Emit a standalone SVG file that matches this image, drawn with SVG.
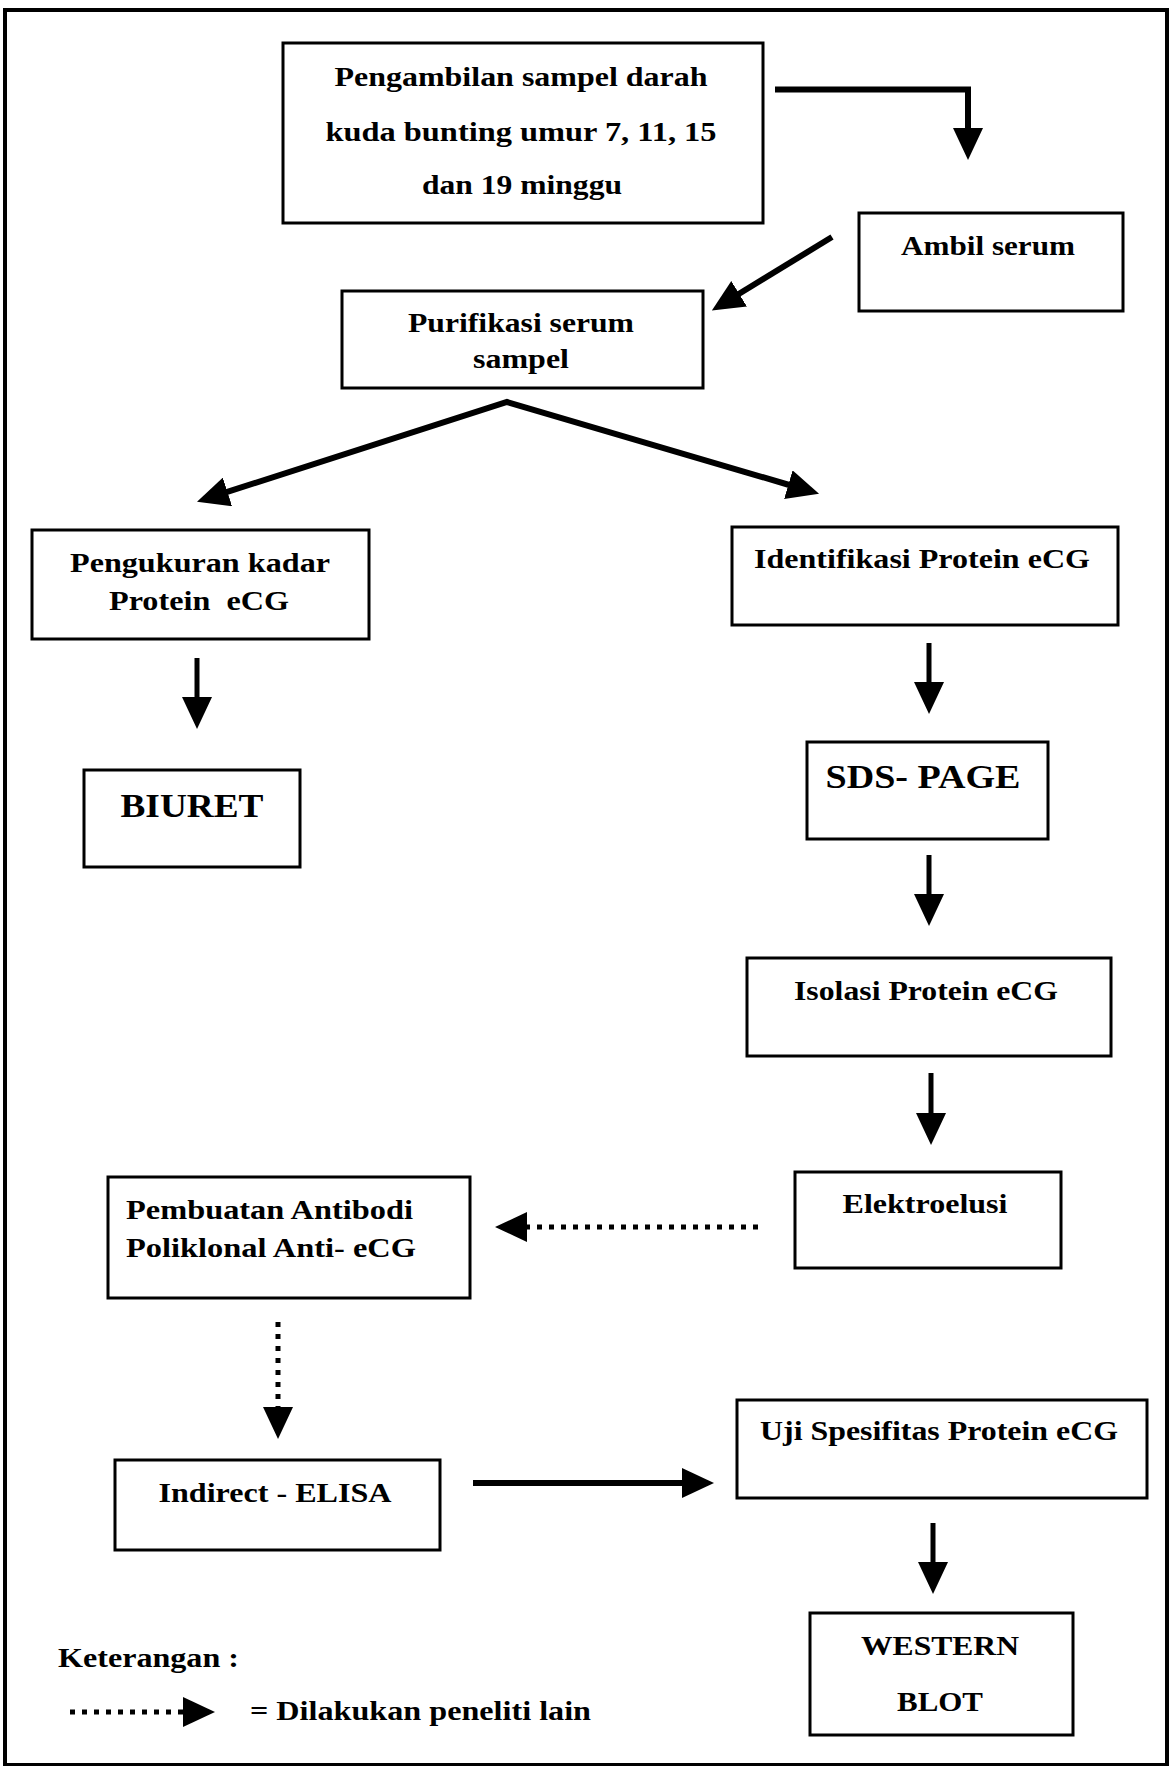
<svg xmlns="http://www.w3.org/2000/svg" width="1171" height="1766" viewBox="0 0 1171 1766">
<style>
.box{fill:#fff;stroke:#000;stroke-width:3}
.t{font-family:"Liberation Serif","Times New Roman",serif;font-weight:bold;font-size:28px;fill:#000}
.c{text-anchor:middle}
.big{font-size:33px}
.ln{fill:none;stroke:#000;stroke-width:5}
.thick{stroke-width:6}
.dot{fill:none;stroke:#000;stroke-width:5;stroke-dasharray:5 7}
</style>
<defs>
<marker id="ah" markerUnits="userSpaceOnUse" viewBox="0 0 32 30" markerWidth="32" markerHeight="30" refX="1" refY="15" orient="auto-start-reverse">
<path d="M0,0 L32,15 L0,30 z" fill="#000"/>
</marker>
</defs>
<rect x="0" y="0" width="1171" height="1766" fill="#fff"/>
<rect id="frame" x="5" y="10" width="1162" height="1755" fill="none" stroke="#000" stroke-width="4"/>

<g id="n-pengambilan">
<rect class="box" x="283" y="43" width="480" height="180"/>
<text class="t c" x="521" y="86" textLength="373" lengthAdjust="spacingAndGlyphs">Pengambilan sampel darah</text>
<text class="t c" x="521" y="141" textLength="391" lengthAdjust="spacingAndGlyphs">kuda bunting umur 7, 11, 15</text>
<text class="t c" x="522" y="194" textLength="200" lengthAdjust="spacingAndGlyphs">dan 19 minggu</text>
</g>
<g id="n-ambil">
<rect class="box" x="859" y="213" width="264" height="98"/>
<text class="t c" x="988" y="255" textLength="174" lengthAdjust="spacingAndGlyphs">Ambil serum</text>
</g>
<g id="n-purifikasi">
<rect class="box" x="342" y="291" width="361" height="97"/>
<text class="t c" x="521" y="332" textLength="226" lengthAdjust="spacingAndGlyphs">Purifikasi serum</text>
<text class="t c" x="521" y="368" textLength="96" lengthAdjust="spacingAndGlyphs">sampel</text>
</g>
<g id="n-pengukuran">
<rect class="box" x="32" y="530" width="337" height="109"/>
<text class="t c" x="200" y="572" textLength="260" lengthAdjust="spacingAndGlyphs">Pengukuran kadar</text>
<text class="t c" x="199" y="610" textLength="180" lengthAdjust="spacingAndGlyphs" xml:space="preserve">Protein  eCG</text>
</g>
<g id="n-identifikasi">
<rect class="box" x="732" y="527" width="386" height="98"/>
<text class="t c" x="922" y="568" textLength="336" lengthAdjust="spacingAndGlyphs">Identifikasi Protein eCG</text>
</g>
<g id="n-biuret">
<rect class="box" x="84" y="770" width="216" height="97"/>
<text class="t c big" x="192" y="817" textLength="143" lengthAdjust="spacingAndGlyphs">BIURET</text>
</g>
<g id="n-sdspage">
<rect class="box" x="807" y="742" width="241" height="97"/>
<text class="t c big" x="923" y="788" textLength="195" lengthAdjust="spacingAndGlyphs">SDS- PAGE</text>
</g>
<g id="n-isolasi">
<rect class="box" x="747" y="958" width="364" height="98"/>
<text class="t c" x="926" y="1000" textLength="264" lengthAdjust="spacingAndGlyphs">Isolasi Protein eCG</text>
</g>
<g id="n-elektroelusi">
<rect class="box" x="795" y="1172" width="266" height="96"/>
<text class="t c" x="925" y="1213" textLength="165" lengthAdjust="spacingAndGlyphs">Elektroelusi</text>
</g>
<g id="n-pembuatan">
<rect class="box" x="108" y="1177" width="362" height="121"/>
<text class="t" x="126" y="1219" textLength="287" lengthAdjust="spacingAndGlyphs">Pembuatan Antibodi</text>
<text class="t" x="126" y="1257" textLength="290" lengthAdjust="spacingAndGlyphs">Poliklonal Anti- eCG</text>
</g>
<g id="n-indirect">
<rect class="box" x="115" y="1460" width="325" height="90"/>
<text class="t c" x="275" y="1502" textLength="233" lengthAdjust="spacingAndGlyphs">Indirect - ELISA</text>
</g>
<g id="n-uji">
<rect class="box" x="737" y="1400" width="410" height="98"/>
<text class="t c" x="939" y="1440" textLength="358" lengthAdjust="spacingAndGlyphs">Uji Spesifitas Protein eCG</text>
</g>
<g id="n-western">
<rect class="box" x="810" y="1613" width="263" height="122"/>
<text class="t c" x="940" y="1655" textLength="158" lengthAdjust="spacingAndGlyphs">WESTERN</text>
<text class="t c" x="940" y="1711" textLength="86" lengthAdjust="spacingAndGlyphs">BLOT</text>
</g>

<g id="connectors">
<path class="ln thick" d="M775,89.5 H968 V129" marker-end="url(#ah)"/>
<path class="ln thick" d="M832,237 L738.3,294.3" marker-end="url(#ah)"/>
<path class="ln thick" d="M226.5,492.2 L507,402 L789.3,485" stroke-linejoin="miter" marker-start="url(#ah)" marker-end="url(#ah)"/>
<path class="ln" d="M197,658 V698" marker-end="url(#ah)"/>
<path class="ln" d="M929,643 V683" marker-end="url(#ah)"/>
<path class="ln" d="M929,855 V895" marker-end="url(#ah)"/>
<path class="ln" d="M931,1073 V1114" marker-end="url(#ah)"/>
<path class="dot" d="M758,1227 H526" marker-end="url(#ah)"/>
<path class="dot" d="M278,1322 V1408" marker-end="url(#ah)"/>
<path class="ln thick" d="M473,1483 H683" marker-end="url(#ah)"/>
<path class="ln" d="M933,1523 V1563" marker-end="url(#ah)"/>
</g>

<g id="legend">
<text class="t" x="58" y="1667" textLength="181" lengthAdjust="spacingAndGlyphs">Keterangan :</text>
<path class="dot" d="M70,1712 H184" marker-end="url(#ah)"/>
<text class="t" x="250" y="1720" textLength="341" lengthAdjust="spacingAndGlyphs">= Dilakukan peneliti lain</text>
</g>
</svg>
